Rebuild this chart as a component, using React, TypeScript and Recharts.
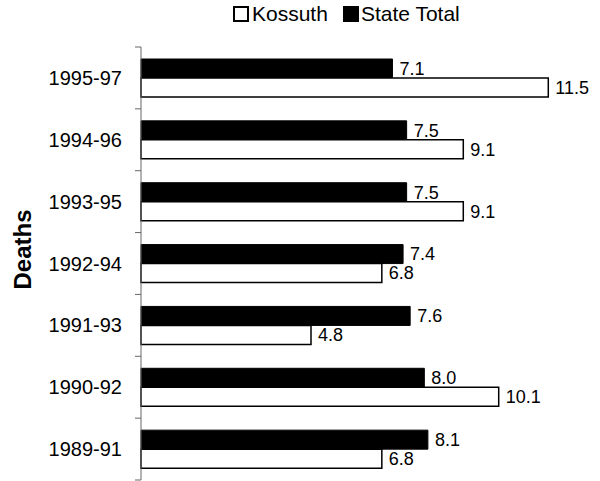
import React from 'react';
import { BarChart, Bar, XAxis, YAxis, Legend, LabelList } from 'recharts';

const categories = ['1995-97', '1994-96', '1993-95', '1992-94', '1991-93', '1990-92', '1989-91'];
const kossuth = [11.5, 9.1, 9.1, 6.8, 4.8, 10.1, 6.8];
const stateTotal = [7.1, 7.5, 7.5, 7.4, 7.6, 8.0, 8.1];

const data = categories.map((name, i) => ({ name, kossuth: kossuth[i], state: stateTotal[i] }));

const FONT = '"Liberation Sans", Arial, sans-serif';
const W = 600;
const H = 481;
const MARGIN = { top: 2, right: 34, bottom: 1, left: 0 };
const LEGEND_H = 45;
const PLOT_H = H - MARGIN.top - LEGEND_H - MARGIN.bottom;
const BAND = PLOT_H / categories.length;

const CatTick = (props: any) => {
  const { x, y, payload, index } = props;
  return (
    <g>
      <text x={x - 19} y={y} dy="0.35em" textAnchor="end" fontSize={20} fontFamily={FONT} fill="#000">
        {payload.value}
      </text>
      <line x1={x - 6} x2={x} y1={y - BAND / 2} y2={y - BAND / 2} stroke="#666" strokeWidth={1} />
      {index === categories.length - 1 && (
        <line x1={x - 6} x2={x} y1={y + BAND / 2} y2={y + BAND / 2} stroke="#666" strokeWidth={1} />
      )}
    </g>
  );
};

const DeathsLabel = (props: any) => {
  const vb = props.viewBox || { y: 47, height: 433 };
  const cx = 23;
  const cy = vb.y + vb.height / 2 - 14;
  return (
    <text
      x={cx}
      y={cy}
      dy="0.35em"
      transform={`rotate(-90 ${cx} ${cy})`}
      textAnchor="middle"
      fontSize={24}
      fontWeight="bold"
      fontFamily={FONT}
      fill="#000"
    >
      Deaths
    </text>
  );
};

const LegendContent = () => (
  <div
    style={{
      height: LEGEND_H,
      display: 'flex',
      alignItems: 'flex-start',
      paddingLeft: 233,
      fontFamily: FONT,
      fontSize: 21,
      color: '#000',
      boxSizing: 'border-box',
    }}
  >
    <div style={{ display: 'flex', alignItems: 'center', lineHeight: '24px' }}>
      <span
        style={{
          width: 16,
          height: 16,
          border: '2px solid #000',
          background: '#fff',
          boxSizing: 'border-box',
          marginRight: 3,
          display: 'inline-block',
        }}
      />
      <span>Kossuth</span>
      <span
        style={{
          width: 16,
          height: 16,
          background: '#000',
          marginLeft: 15,
          marginRight: 2,
          display: 'inline-block',
        }}
      />
      <span>State Total</span>
    </div>
  </div>
);

export default function App() {
  return (
    <div style={{ position: 'absolute', left: 0, top: 0, width: W, height: H, background: '#fff' }}>
      <BarChart
        width={W}
        height={H}
        data={data}
        layout="vertical"
        margin={MARGIN}
        barGap={0}
        barSize={19}
      >
        <Legend verticalAlign="top" align="left" height={LEGEND_H} content={<LegendContent />} />
        <XAxis type="number" domain={[0, 12]} hide />
        <YAxis
          type="category"
          dataKey="name"
          width={141}
          tickSize={0}
          tickMargin={0}
          tickLine={false}
          axisLine={{ stroke: '#666', strokeWidth: 1 }}
          tick={<CatTick />}
          interval={0}
          label={(p: any) => <DeathsLabel {...p} />}
        />
        <Bar dataKey="state" fill="#000" stroke="#000" strokeWidth={1} isAnimationActive={false}>
          <LabelList
            dataKey="state"
            position="right"
            offset={7}
            formatter={(v: any) => Number(v).toFixed(1)}
            style={{ fontSize: 18, fontFamily: FONT, fill: '#000' }}
          />
        </Bar>
        <Bar dataKey="kossuth" fill="#fff" stroke="#000" strokeWidth={1.5} isAnimationActive={false}>
          <LabelList
            dataKey="kossuth"
            position="right"
            offset={7}
            formatter={(v: any) => Number(v).toFixed(1)}
            style={{ fontSize: 18, fontFamily: FONT, fill: '#000' }}
          />
        </Bar>
      </BarChart>
    </div>
  );
}
